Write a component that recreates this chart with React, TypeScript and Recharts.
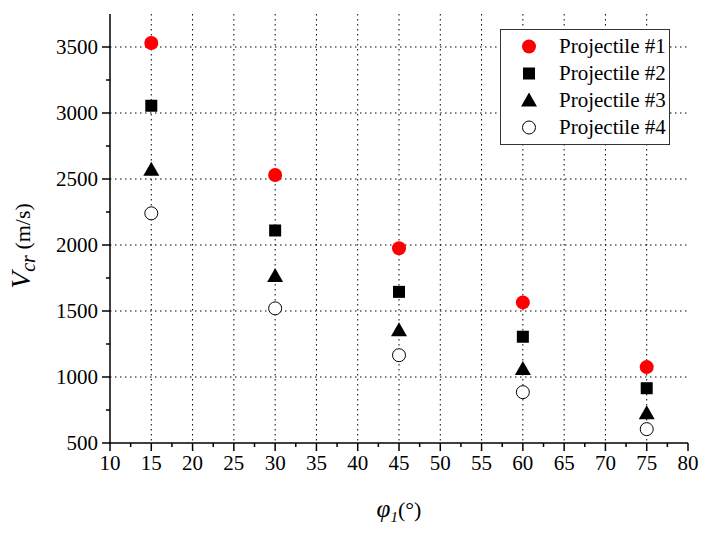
import { ScatterChart, Scatter, XAxis, YAxis, CartesianGrid, Legend } from "recharts";

const angles = [15, 30, 45, 60, 75];
const projectile1 = [3530, 2530, 1975, 1565, 1075];
const projectile2 = [3055, 2110, 1645, 1305, 915];
const projectile3 = [2570, 1765, 1355, 1060, 725];
const projectile4 = [2240, 1520, 1165, 885, 605];

const xMajor = [10, 15, 20, 25, 30, 35, 40, 45, 50, 55, 60, 65, 70, 75, 80];
const xMinor = [12.5, 17.5, 22.5, 27.5, 32.5, 37.5, 42.5, 47.5, 52.5, 57.5, 62.5, 67.5, 72.5, 77.5];
const yMajor = [500, 1000, 1500, 2000, 2500, 3000, 3500];
const yMinor = [750, 1250, 1750, 2250, 2750, 3250];

const FONT = "Liberation Serif, Times New Roman, Times, DejaVu Serif, serif";
const xTicks = [...xMajor, ...xMinor].sort((a, b) => a - b);
const yTicks = [...yMajor, ...yMinor].sort((a, b) => a - b);

const toPoints = (vals: number[]) => angles.map((a, i) => ({ x: a, y: vals[i] }));

const series = [
  { name: "Projectile #1", data: toPoints(projectile1), kind: "circle" },
  { name: "Projectile #2", data: toPoints(projectile2), kind: "square" },
  { name: "Projectile #3", data: toPoints(projectile3), kind: "triangle" },
  { name: "Projectile #4", data: toPoints(projectile4), kind: "open" },
];

const Marker = ({ kind, cx, cy }: { kind: string; cx: number; cy: number }) => {
  if (kind === "circle") return <circle cx={cx} cy={cy} r={7} fill="#ff0000" />;
  if (kind === "square") return <rect x={cx - 6} y={cy - 6} width={12} height={12} fill="#000" />;
  if (kind === "triangle")
    return <polygon points={`${cx - 8},${cy + 6} ${cx + 8},${cy + 6} ${cx},${cy - 8}`} fill="#000" />;
  return <circle cx={cx} cy={cy} r={6.5} fill="#fff" stroke="#000" strokeWidth={1} />;
};

const isMajor = (v: number, step: number) => Math.abs(v % step) < 1e-6;

const XTick = (props: any) => {
  const { x, y, payload, side } = props;
  const major = isMajor(payload.value, 5);
  const len = major ? 8 : 4;
  const dir = side === "bottom" ? 1 : -1;
  return (
    <g>
      <line x1={x} y1={y} x2={x} y2={y + dir * len} stroke="#000" strokeWidth={1.5} />
      {side === "bottom" && major && (
        <text x={x} y={y + 27} textAnchor="middle" style={{ fontFamily: FONT }} fontSize={21} fill="#000">
          {payload.value}
        </text>
      )}
    </g>
  );
};

const YTick = (props: any) => {
  const { x, y, payload, side } = props;
  const major = isMajor(payload.value, 500);
  const len = major ? 8 : 4;
  const dir = side === "left" ? -1 : 1;
  return (
    <g>
      <line x1={x} y1={y} x2={x + dir * len} y2={y} stroke="#000" strokeWidth={1.5} />
      {side === "left" && major && (
        <text x={x - 12} y={y} dy="0.35em" textAnchor="end" style={{ fontFamily: FONT }} fontSize={21} fill="#000">
          {payload.value}
        </text>
      )}
    </g>
  );
};

const LegendBox = () => (
  <div
    style={{
      border: "1px solid #333",
      background: "#fff",
      width: 168,
      padding: "3px 0",
      fontFamily: FONT,
      fontSize: 21,
      color: "#000",
    }}
  >
    {series.map((s) => (
      <div key={s.name} style={{ display: "flex", alignItems: "center", height: 27 }}>
        <svg width={56} height={27}>
          <Marker kind={s.kind} cx={28} cy={13.5} />
        </svg>
        <span style={{ marginLeft: 2 }}>{s.name}</span>
      </div>
    ))}
  </div>
);

export default function App() {
  return (
    <div style={{ position: "absolute", left: 0, top: 0, width: 702, height: 533, background: "#fff" }}>
      <ScatterChart width={702} height={533} margin={{ top: 14, right: 14, bottom: 0, left: 0 }}>
        <CartesianGrid
          stroke="#000"
          strokeDasharray="1.5 3.5"
          verticalValues={xMajor.slice(1, -1)}
          horizontalValues={yMajor.slice(1)}
        />
        <XAxis
          type="number"
          dataKey="x"
          domain={[10, 80]}
          ticks={xTicks}
          interval={0}
          height={90}
          tickSize={0}
          tickMargin={0}
          tickLine={false}
          axisLine={{ stroke: "#000", strokeWidth: 1.5 }}
          tick={<XTick side="bottom" />}
          label={{
            content: () => (
              <text x={399} y={517} textAnchor="middle" style={{ fontFamily: FONT }} fill="#000">
                <tspan fontStyle="italic" fontSize={25}>φ</tspan>
                <tspan fontStyle="italic" fontSize={15} dy={5}>1</tspan>
                <tspan fontSize={22} dy={-5}>(°)</tspan>
              </text>
            ),
          }}
        />
        <XAxis
          xAxisId="top"
          orientation="top"
          type="number"
          domain={[10, 80]}
          ticks={xTicks}
          interval={0}
          height={0}
          tickSize={0}
          tickMargin={0}
          tickLine={false}
          axisLine={{ stroke: "#000", strokeWidth: 1.5 }}
          tick={<XTick side="top" />}
        />
        <YAxis
          type="number"
          dataKey="y"
          domain={[500, 3750]}
          ticks={yTicks}
          interval={0}
          width={110}
          tickSize={0}
          tickMargin={0}
          tickLine={false}
          axisLine={{ stroke: "#000", strokeWidth: 1.5 }}
          tick={<YTick side="left" />}
          label={{
            content: () => (
              <text
                x={30}
                y={246}
                transform="rotate(-90 30 246)"
                textAnchor="middle"
                style={{ fontFamily: FONT }}
                fill="#000"
              >
                <tspan fontStyle="italic" fontSize={28}>V</tspan>
                <tspan fontStyle="italic" fontSize={20} dy={5}>cr</tspan>
                <tspan fontSize={22} dy={-5}> (m/s)</tspan>
              </text>
            ),
          }}
        />
        <YAxis
          yAxisId="right"
          orientation="right"
          type="number"
          domain={[500, 3750]}
          ticks={yTicks}
          interval={0}
          width={0}
          tickSize={0}
          tickMargin={0}
          tickLine={false}
          axisLine={{ stroke: "#000", strokeWidth: 1.5 }}
          tick={<YTick side="right" />}
        />
        <Legend
          layout="vertical"
          align="center"
          verticalAlign="middle"
          wrapperStyle={{ left: 500, top: 29, width: 170 }}
          content={() => <LegendBox />}
        />
        {series.map((s) => (
          <Scatter
            key={s.name}
            name={s.name}
            data={s.data}
            isAnimationActive={false}
            shape={(p: any) => <Marker kind={s.kind} cx={p.cx} cy={p.cy} />}
          />
        ))}
      </ScatterChart>
    </div>
  );
}
